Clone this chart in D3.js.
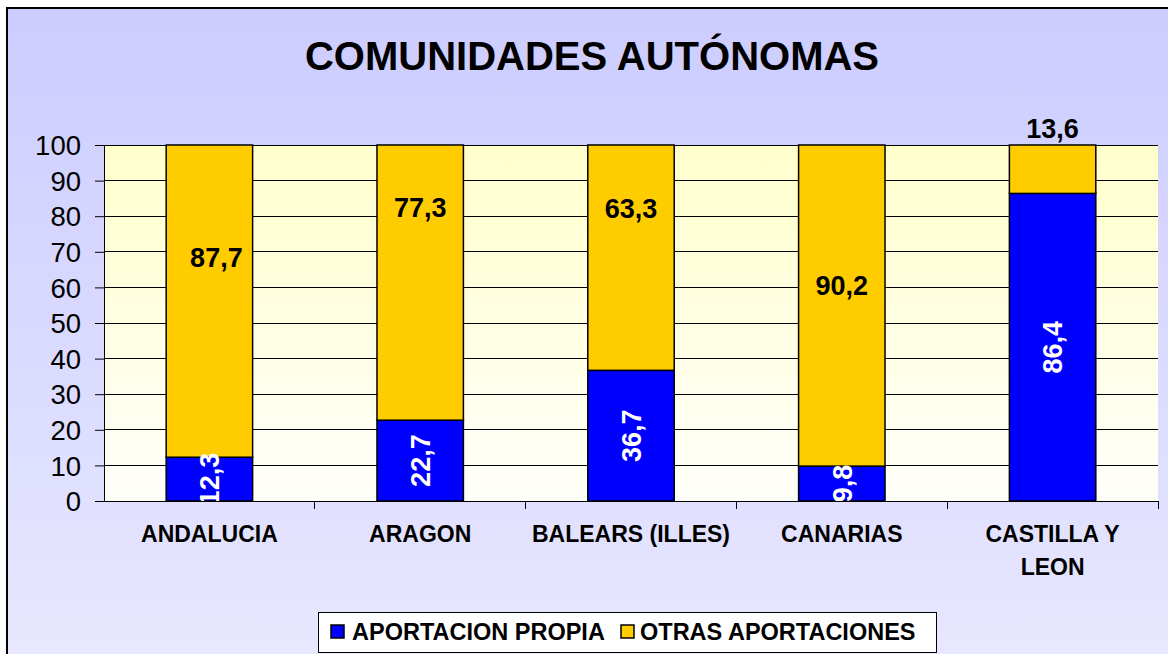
<!DOCTYPE html>
<html>
<head>
<meta charset="utf-8">
<script src="https://cdn.jsdelivr.net/npm/d3@7"></script>
<style>
html,body{margin:0;padding:0;background:#fff;}
svg{display:block;font-family:Arial,"Liberation Sans",sans-serif;}
</style>
</head>
<body>
<svg id="chart" width="1168" height="654"></svg>
<script>
// ---- data ----
const categories = ["ANDALUCIA", "ARAGON", "BALEARS (ILLES)", "CANARIAS", "CASTILLA Y LEON"];
const aportacionPropia = [12.3, 22.7, 36.7, 9.8, 86.4];
const otrasAportaciones = [87.7, 77.3, 63.3, 90.2, 13.6];
const seriesNames = ["APORTACION PROPIA", "OTRAS APORTACIONES"];
const yTicks = [0, 10, 20, 30, 40, 50, 60, 70, 80, 90, 100];
const titleText = "COMUNIDADES AUTÓNOMAS";

// ---- layout (not data) ----
const W = 1168, H = 654;
const plot = {left: 104, right: 1158, top: 145, bottom: 501};
// label anchors for the yellow series, in axis units (as placed in the original)
const otrasLabelAt = [68.5, 82.6, 82.3, 60.7, 104.8];
const colors = {propia: "#0000FF", otras: "#FFCC00"};

const svg = d3.select("#chart");
const defs = svg.append("defs");

const bgGrad = defs.append("linearGradient").attr("id", "bgGrad")
  .attr("x1", 0).attr("y1", 0).attr("x2", 0).attr("y2", 1);
bgGrad.append("stop").attr("offset", "0%").attr("stop-color", "#CCCCFF");
bgGrad.append("stop").attr("offset", "100%").attr("stop-color", "#E8E8FF");

const plotGrad = defs.append("linearGradient").attr("id", "plotGrad")
  .attr("x1", 0).attr("y1", 0).attr("x2", 0).attr("y2", 1);
plotGrad.append("stop").attr("offset", "0%").attr("stop-color", "#FFFFCC");
plotGrad.append("stop").attr("offset", "100%").attr("stop-color", "#FFFFFA");

defs.append("clipPath").attr("id", "plotClip")
  .append("rect").attr("x", plot.left).attr("y", plot.top)
  .attr("width", plot.right - plot.left).attr("height", plot.bottom - plot.top);

// outer background + frame
svg.append("rect").attr("x", 0).attr("y", 0).attr("width", W).attr("height", H).attr("fill", "#fff");
svg.append("rect").attr("x", 7).attr("y", 8).attr("width", W + 10).attr("height", H + 10)
  .attr("fill", "url(#bgGrad)").attr("stroke", "#000").attr("stroke-width", 2);

// title
svg.append("text").attr("x", 592).attr("y", 70).attr("text-anchor", "middle")
  .attr("font-size", 40).attr("font-weight", "bold").attr("fill", "#000").text(titleText);

// scales
const x = d3.scaleBand().domain(categories).range([plot.left, plot.right])
  .paddingInner(0.59).paddingOuter(0.295);
const y = d3.scaleLinear().domain([0, 100]).range([plot.bottom, plot.top]);

// plot area
svg.append("rect").attr("x", plot.left).attr("y", plot.top)
  .attr("width", plot.right - plot.left).attr("height", plot.bottom - plot.top)
  .attr("fill", "url(#plotGrad)");

// gridlines
svg.append("g").selectAll("line").data(yTicks.filter(d => d > 0)).join("line")
  .attr("x1", plot.left).attr("x2", plot.right)
  .attr("y1", d => y(d)).attr("y2", d => y(d))
  .attr("stroke", "#000").attr("stroke-width", 1).attr("shape-rendering", "crispEdges");

// y axis
const yAxis = svg.append("g").attr("transform", `translate(${plot.left},0)`)
  .call(d3.axisLeft(y).tickValues(yTicks).tickSize(9).tickPadding(14).tickFormat(d3.format("d")));
yAxis.select(".domain").attr("stroke", "#000").attr("stroke-width", 1);
yAxis.selectAll(".tick line").attr("stroke", "#000");
yAxis.selectAll("text").attr("font-size", 27.5).attr("fill", "#000")
  .attr("font-family", "Arial, 'Liberation Sans', sans-serif").attr("dy", "0.35em");

// x axis line and category boundary ticks
const step = x.step();
const boundaries = d3.range(categories.length + 1).map(i => plot.left + i * step);
svg.append("line").attr("x1", plot.left).attr("x2", plot.right)
  .attr("y1", plot.bottom).attr("y2", plot.bottom).attr("stroke", "#000").attr("stroke-width", 1)
  .attr("shape-rendering", "crispEdges");
svg.append("g").selectAll("line").data(boundaries.slice(1)).join("line")
  .attr("x1", d => d).attr("x2", d => d).attr("y1", plot.bottom).attr("y2", plot.bottom + 8)
  .attr("stroke", "#000").attr("stroke-width", 1).attr("shape-rendering", "crispEdges");

// x labels (wrap two-line for long label)
const xLab = svg.append("g");
categories.forEach((c, i) => {
  const cx = x(c) + x.bandwidth() / 2;
  const lines = c === "CASTILLA Y LEON" ? ["CASTILLA Y", "LEON"] : [c];
  const t = xLab.append("text").attr("x", cx).attr("y", 542).attr("text-anchor", "middle")
    .attr("font-size", 23).attr("font-weight", "bold").attr("fill", "#000");
  lines.forEach((ln, k) => t.append("tspan").attr("x", cx).attr("dy", k === 0 ? 0 : 33).text(ln));
});

// bars
const stackData = categories.map((c, i) => ({cat: c, propia: aportacionPropia[i], otras: otrasAportaciones[i]}));
const bars = svg.append("g");
bars.selectAll("rect.propia").data(stackData).join("rect").attr("class", "propia")
  .attr("x", d => x(d.cat)).attr("width", x.bandwidth())
  .attr("y", d => y(d.propia)).attr("height", d => y(0) - y(d.propia))
  .attr("fill", colors.propia).attr("stroke", "#000").attr("stroke-width", 1.5);
bars.selectAll("rect.otras").data(stackData).join("rect").attr("class", "otras")
  .attr("x", d => x(d.cat)).attr("width", x.bandwidth())
  .attr("y", d => y(d.propia + d.otras)).attr("height", d => y(d.propia) - y(d.propia + d.otras))
  .attr("fill", colors.otras).attr("stroke", "#000").attr("stroke-width", 1.5);

const fmt = v => String(v).replace(".", ",");

// blue labels: rotated, white, clipped to plot
const blueLab = svg.append("g").attr("clip-path", "url(#plotClip)");
stackData.forEach(d => {
  const cx = x(d.cat) + x.bandwidth() / 2;
  const cy = y(d.propia / 2);
  blueLab.append("text").attr("transform", `translate(${cx},${cy}) rotate(-90)`)
    .attr("text-anchor", "middle").attr("dy", "0.36em")
    .attr("font-size", 27).attr("font-weight", "bold").attr("fill", "#fff").text(fmt(d.propia));
});

// yellow labels
const yelLab = svg.append("g");
stackData.forEach((d, i) => {
  const cx = x(d.cat) + x.bandwidth() / 2 + (i === 0 ? 7 : 0);
  yelLab.append("text").attr("x", cx).attr("y", y(otrasLabelAt[i])).attr("dy", "0.36em")
    .attr("text-anchor", "middle").attr("font-size", 27).attr("font-weight", "bold")
    .attr("fill", "#000").text(fmt(d.otras));
});

// legend
const lg = svg.append("g");
lg.append("rect").attr("x", 318.5).attr("y", 612.5).attr("width", 618).attr("height", 40)
  .attr("fill", "#fff").attr("stroke", "#000").attr("stroke-width", 1);
const legendItems = [
  {name: seriesNames[0], color: colors.propia, sx: 331, tx: 352},
  {name: seriesNames[1], color: colors.otras, sx: 621, tx: 640}
];
legendItems.forEach(it => {
  lg.append("rect").attr("x", it.sx).attr("y", 625).attr("width", 13).attr("height", 13)
    .attr("fill", it.color).attr("stroke", "#000").attr("stroke-width", 1.5);
  lg.append("text").attr("x", it.tx).attr("y", 640).attr("font-size", 23.5)
    .attr("font-weight", "bold").attr("fill", "#000").text(it.name);
});
</script>
</body>
</html>
